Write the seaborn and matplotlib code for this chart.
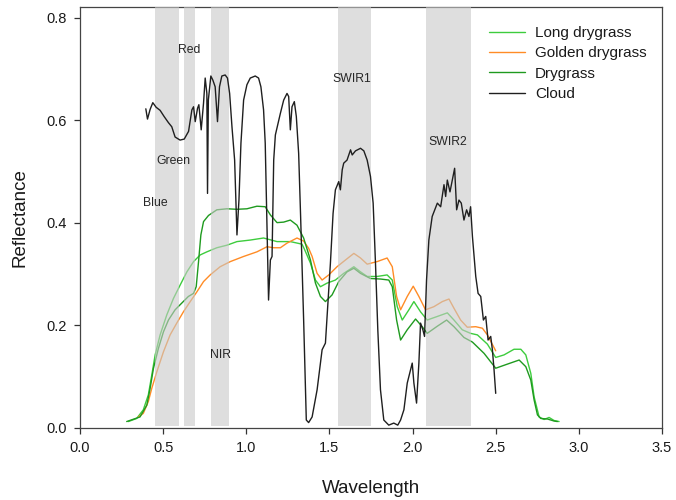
import numpy as np
import pandas as pd
import matplotlib
matplotlib.use("Agg")
import matplotlib.pyplot as plt
import seaborn as sns

# Spectral reflectance curves (wavelength in micrometres)
long_wl = [0.291, 0.341, 0.381, 0.411, 0.432, 0.452, 0.482, 0.522, 0.562, 0.602, 0.643, 0.683,
           0.723, 0.763, 0.823, 0.884, 0.944, 1.024, 1.104, 1.185, 1.265, 1.335, 1.350, 1.386,
           1.416, 1.446, 1.486, 1.536, 1.586, 1.647, 1.687, 1.727, 1.787, 1.847, 1.878, 1.908,
           1.938, 1.978, 2.008, 2.048, 2.088, 2.149, 2.209, 2.249, 2.299, 2.349, 2.390, 2.450,
           2.500, 2.550, 2.610, 2.651, 2.681, 2.711, 2.731, 2.761, 2.791, 2.821, 2.851, 2.881]
long_refl = [0.012, 0.018, 0.035, 0.064, 0.103, 0.142, 0.181, 0.220, 0.252, 0.278, 0.304, 0.324,
             0.337, 0.343, 0.351, 0.356, 0.363, 0.366, 0.370, 0.363, 0.363, 0.358, 0.348, 0.321,
             0.288, 0.275, 0.282, 0.288, 0.301, 0.314, 0.304, 0.295, 0.295, 0.298, 0.288, 0.236,
             0.210, 0.230, 0.246, 0.226, 0.210, 0.217, 0.224, 0.210, 0.191, 0.184, 0.181, 0.163,
             0.137, 0.142, 0.153, 0.153, 0.142, 0.106, 0.060, 0.021, 0.016, 0.020, 0.014, 0.012]

golden_wl = [0.351, 0.381, 0.411, 0.432, 0.462, 0.502, 0.542, 0.582, 0.622, 0.663, 0.703, 0.743,
             0.783, 0.843, 0.904, 0.984, 1.064, 1.125, 1.165, 1.205, 1.245, 1.305, 1.345, 1.375,
             1.396, 1.426, 1.456, 1.496, 1.546, 1.596, 1.647, 1.687, 1.727, 1.787, 1.847, 1.878,
             1.904, 1.928, 1.968, 2.004, 2.038, 2.078, 2.128, 2.179, 2.219, 2.249, 2.289, 2.329,
             2.380, 2.420, 2.450, 2.500]
golden_refl = [0.021, 0.028, 0.051, 0.077, 0.109, 0.148, 0.181, 0.204, 0.226, 0.246, 0.265, 0.285,
               0.298, 0.314, 0.324, 0.334, 0.343, 0.353, 0.351, 0.351, 0.360, 0.370, 0.364, 0.350,
               0.334, 0.301, 0.288, 0.298, 0.314, 0.327, 0.340, 0.331, 0.319, 0.324, 0.331, 0.314,
               0.256, 0.230, 0.256, 0.276, 0.256, 0.230, 0.236, 0.246, 0.251, 0.233, 0.210, 0.196,
               0.197, 0.194, 0.181, 0.150]

dry_wl = [0.281, 0.361, 0.402, 0.422, 0.442, 0.472, 0.502, 0.532, 0.572, 0.612, 0.652, 0.683,
          0.699, 0.713, 0.727, 0.743, 0.773, 0.823, 0.884, 0.944, 1.004, 1.064, 1.114, 1.145,
          1.185, 1.225, 1.265, 1.305, 1.345, 1.386, 1.416, 1.446, 1.476, 1.516, 1.556, 1.606,
          1.647, 1.687, 1.747, 1.807, 1.857, 1.878, 1.904, 1.928, 1.968, 2.018, 2.058, 2.088,
          2.149, 2.205, 2.249, 2.309, 2.360, 2.430, 2.500, 2.570, 2.641, 2.681, 2.711, 2.731,
          2.751, 2.771, 2.811, 2.851, 2.871]
dry_refl = [0.012, 0.021, 0.044, 0.077, 0.116, 0.155, 0.187, 0.210, 0.230, 0.243, 0.256, 0.262,
            0.275, 0.324, 0.376, 0.402, 0.414, 0.425, 0.427, 0.426, 0.427, 0.432, 0.431, 0.415,
            0.400, 0.401, 0.405, 0.395, 0.370, 0.327, 0.282, 0.256, 0.246, 0.259, 0.285, 0.304,
            0.311, 0.301, 0.291, 0.290, 0.288, 0.275, 0.210, 0.171, 0.191, 0.212, 0.197, 0.184,
            0.198, 0.210, 0.197, 0.176, 0.167, 0.145, 0.116, 0.124, 0.132, 0.119, 0.093, 0.054,
            0.025, 0.018, 0.017, 0.013, 0.012]

cloud_wl = [0.396, 0.406, 0.422, 0.438, 0.458, 0.482, 0.506, 0.532, 0.552, 0.572, 0.602, 0.627,
            0.653, 0.673, 0.683, 0.693, 0.707, 0.715, 0.729, 0.743, 0.753, 0.763, 0.767, 0.772,
            0.787, 0.799, 0.813, 0.827, 0.839, 0.853, 0.873, 0.887, 0.900, 0.914, 0.930, 0.944,
            0.956, 0.968, 0.984, 1.004, 1.024, 1.054, 1.074, 1.088, 1.104, 1.114, 1.125, 1.134,
            1.145, 1.155, 1.165, 1.175, 1.189, 1.205, 1.225, 1.245, 1.255, 1.265, 1.275, 1.289,
            1.301, 1.315, 1.327, 1.345, 1.361, 1.375, 1.396, 1.426, 1.456, 1.476, 1.486, 1.506,
            1.522, 1.536, 1.556, 1.566, 1.577, 1.586, 1.606, 1.627, 1.637, 1.657, 1.687, 1.707,
            1.727, 1.747, 1.763, 1.777, 1.791, 1.807, 1.827, 1.857, 1.887, 1.911, 1.928, 1.948,
            1.968, 1.988, 1.998, 2.008, 2.024, 2.038, 2.048, 2.062, 2.072, 2.084, 2.098, 2.118,
            2.149, 2.169, 2.189, 2.199, 2.209, 2.225, 2.239, 2.253, 2.265, 2.279, 2.293, 2.309,
            2.325, 2.339, 2.349, 2.360, 2.380, 2.394, 2.410, 2.426, 2.440, 2.454, 2.470, 2.480,
            2.490, 2.500]
cloud_refl = [0.622, 0.602, 0.621, 0.634, 0.625, 0.619, 0.607, 0.595, 0.587, 0.567, 0.561, 0.563,
              0.578, 0.620, 0.626, 0.597, 0.623, 0.630, 0.581, 0.633, 0.682, 0.652, 0.457, 0.639,
              0.686, 0.678, 0.665, 0.597, 0.665, 0.686, 0.688, 0.682, 0.652, 0.587, 0.522, 0.376,
              0.444, 0.555, 0.639, 0.669, 0.682, 0.686, 0.682, 0.665, 0.620, 0.555, 0.392, 0.249,
              0.327, 0.334, 0.522, 0.571, 0.591, 0.613, 0.639, 0.652, 0.646, 0.581, 0.626, 0.636,
              0.607, 0.535, 0.410, 0.210, 0.015, 0.010, 0.021, 0.074, 0.152, 0.165, 0.217, 0.321,
              0.418, 0.464, 0.480, 0.464, 0.503, 0.516, 0.522, 0.542, 0.532, 0.540, 0.545, 0.540,
              0.522, 0.490, 0.438, 0.321, 0.191, 0.074, 0.015, 0.005, 0.009, 0.005, 0.015, 0.035,
              0.087, 0.113, 0.126, 0.087, 0.048, 0.126, 0.204, 0.191, 0.178, 0.288, 0.366, 0.412,
              0.438, 0.431, 0.474, 0.451, 0.483, 0.460, 0.483, 0.506, 0.425, 0.444, 0.438, 0.405,
              0.425, 0.412, 0.431, 0.373, 0.295, 0.262, 0.256, 0.210, 0.217, 0.171, 0.178, 0.152,
              0.113, 0.067]

# Satellite band windows (start, end) and their labels with label anchor points
band_ranges = [(0.45, 0.595), (0.627, 0.689), (0.787, 0.898), (1.552, 1.751), (2.083, 2.354)]
band_names = ["Red", "Green", "Blue", "NIR", "SWIR1", "SWIR2"]
band_label_x = [0.659, 0.562, 0.456, 0.843, 1.637, 2.213]
band_label_y = [0.737, 0.520, 0.439, 0.142, 0.680, 0.558]

series_names = ["Long drygrass", "Golden drygrass", "Drygrass", "Cloud"]
series_colors = ["#3dcc3d", "#ff8c26", "#1f9a1f", "#1f1f1f"]

sns.set_style("ticks")
plt.rcParams["font.family"] = ["Liberation Sans", "DejaVu Sans"]

fig = plt.figure(figsize=(6.76, 5.0), dpi=100)
ax = fig.add_axes([0.1183, 0.1446, 0.8610, 0.8408])

grass = [(long_wl, long_refl), (golden_wl, golden_refl), (dry_wl, dry_refl)]
for (wl, refl), name, col in zip(grass, series_names[:3], series_colors[:3]):
    sns.lineplot(x=wl, y=refl, ax=ax, color=col, linewidth=1.0, label=name,
                 sort=False, estimator=None, zorder=2)

# shaded band windows sit over the vegetation curves
for lo, hi in band_ranges:
    ax.axvspan(lo, hi, ymin=0.004, ymax=1.0, facecolor="#c9c9c9", alpha=0.6,
               edgecolor="none", zorder=2.6)

sns.lineplot(x=cloud_wl, y=cloud_refl, ax=ax, color=series_colors[3], linewidth=1.0,
             label=series_names[3], sort=False, estimator=None, zorder=3)

for name, tx, ty in zip(band_names, band_label_x, band_label_y):
    ax.text(tx, ty, name, ha="center", va="center", fontsize=8.8, color="#262626", zorder=4)

ax.set_xlim(0, 3.5)
ax.set_ylim(0, 0.82)
ax.set_xticks(np.arange(0, 3.51, 0.5))
ax.set_yticks(np.arange(0, 0.81, 0.2))
ax.xaxis.set_major_formatter(matplotlib.ticker.FormatStrFormatter("%.1f"))
ax.yaxis.set_major_formatter(matplotlib.ticker.FormatStrFormatter("%.1f"))
ax.tick_params(axis="both", direction="out", length=4.5, width=0.9, pad=5,
               labelsize=10.5, colors="#333333", labelcolor="#1a1a1a")
ax.set_xlabel("Wavelength", fontsize=13.5, color="#1a1a1a", labelpad=18)
ax.set_ylabel("Reflectance", fontsize=13.5, color="#1a1a1a", labelpad=13)

for side in ["left", "right", "top", "bottom"]:
    ax.spines[side].set_visible(True)
    ax.spines[side].set_color("#444444")
    ax.spines[side].set_linewidth(0.9)

leg = ax.legend(loc="upper left", bbox_to_anchor=(489 / 676, 1 - 26 / 500),
                bbox_transform=fig.transFigure, frameon=False, fontsize=11,
                handlelength=2.35, handletextpad=0.65, labelspacing=0.42,
                borderpad=0, borderaxespad=0)
for t in leg.get_texts():
    t.set_color("#1a1a1a")

fig.savefig("out.png", dpi=100)
